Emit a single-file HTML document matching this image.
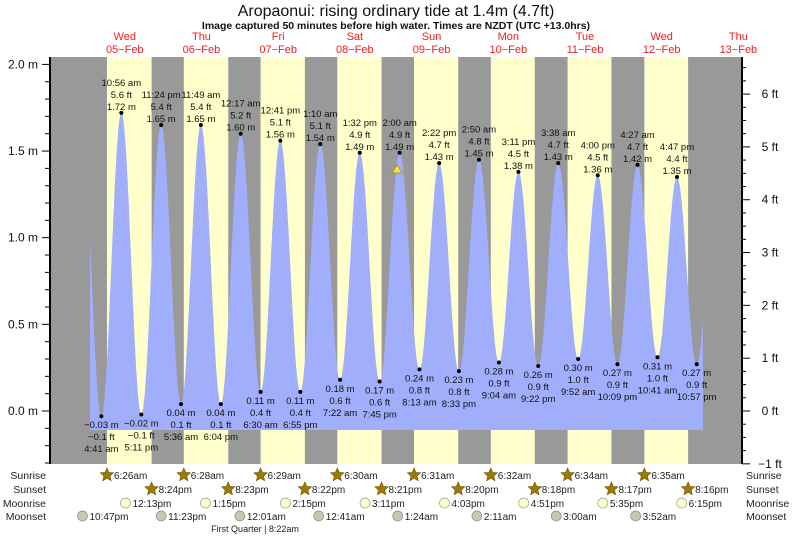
<!DOCTYPE html>
<html><head><meta charset="utf-8"><style>
body{margin:0;background:#fff;}
svg{display:block;font-family:"Liberation Sans",sans-serif;}
</style></head><body>
<svg id="s" width="793" height="537" xmlns="http://www.w3.org/2000/svg">
<rect x="50" y="57" width="692" height="407" fill="#999"/>
<g id="bands"></g>
<path id="tide" fill="#a0aefc"/>
<g id="lbl" font-size="9.5" fill="#111" text-anchor="middle"></g>
<polygon points="397,165 392,173 402,173" fill="#f5e342" stroke="#a08a00" stroke-width="0.7"/>
<line x1="50" y1="57" x2="50" y2="464" stroke="#000" stroke-width="2"/>
<line x1="742" y1="57" x2="742" y2="464" stroke="#000" stroke-width="2"/>
<g id="ax" font-size="12" fill="#111"></g>
<text x="396" y="16" font-size="16" text-anchor="middle" fill="#111">Aropaonui: rising  ordinary tide at 1.4m (4.7ft)</text>
<text x="396" y="29" font-size="10.5" font-weight="bold" text-anchor="middle" fill="#111">Image captured 50 minutes before high water. Times are NZDT (UTC +13.0hrs)</text>
<g id="days" font-size="11" fill="#f02020" text-anchor="middle"></g>
<g id="bot" font-size="11" fill="#222"></g>
<text x="255" y="532" font-size="9" text-anchor="middle" fill="#222">First Quarter | 8:22am</text>
</svg>
<script>
const NS="http://www.w3.org/2000/svg";
const X=t=>86.4+t*3.196, Y=h=>411-173.3*h;
function el(p,n,a,txt){const e=document.createElementNS(NS,n);for(const k in a)e.setAttribute(k,a[k]);if(txt!=null)e.textContent=txt;document.getElementById(p).appendChild(e);return e;}
const hm=s=>{let[h,m]=s.split(':').map(Number);return h+m/60;};
const sr=["6:26","6:28","6:29","6:30","6:31","6:32","6:34","6:35"],ss=["20:24","20:23","20:22","20:21","20:20","20:18","20:17","20:16"];
const ssl=["8:24pm","8:23pm","8:22pm","8:21pm","8:20pm","8:18pm","8:17pm","8:16pm"];
for(let d=0;d<8;d++){const a=X(d*24+hm(sr[d])),b=X(d*24+hm(ss[d]));el("bands","rect",{x:a,y:57,width:b-a,height:407,fill:"#ffffcc"});}
const E=[[-1,"22:30",1.62],[0,"4:41",-0.03,"4:41 am"],[0,"10:56",1.72,"10:56 am"],[0,"17:11",-0.02,"5:11 pm"],[0,"23:24",1.65,"11:24 pm"],
[1,"5:36",0.04,"5:36 am"],[1,"11:49",1.65,"11:49 am"],[1,"18:04",0.04,"6:04 pm"],[2,"0:17",1.60,"12:17 am"],[2,"6:30",0.11,"6:30 am"],[2,"12:41",1.56,"12:41 pm"],[2,"18:55",0.11,"6:55 pm"],
[3,"1:10",1.54,"1:10 am"],[3,"7:22",0.18,"7:22 am"],[3,"13:32",1.49,"1:32 pm"],[3,"19:45",0.17,"7:45 pm"],[4,"2:00",1.49,"2:00 am"],[4,"8:13",0.24,"8:13 am"],[4,"14:22",1.43,"2:22 pm"],[4,"20:33",0.23,"8:33 pm"],
[5,"2:50",1.45,"2:50 am"],[5,"9:04",0.28,"9:04 am"],[5,"15:11",1.38,"3:11 pm"],[5,"21:22",0.26,"9:22 pm"],[6,"3:38",1.43,"3:38 am"],[6,"9:52",0.30,"9:52 am"],[6,"16:00",1.36,"4:00 pm"],[6,"22:09",0.27,"10:09 pm"],
[7,"4:27",1.42,"4:27 am"],[7,"10:41",0.31,"10:41 am"],[7,"16:47",1.35,"4:47 pm"],[7,"22:57",0.27,"10:57 pm"],[8,"5:15",1.40]];
const P=E.map(e=>[e[0]*24+hm(e[1]),e[2]]);
function H(t){for(let i=0;i<P.length-1;i++){if(t>=P[i][0]&&t<=P[i+1][0]){const[a,ha]=P[i],[b,hb]=P[i+1];const f=(1-Math.cos(Math.PI*(t-a)/(b-a)))/2;return ha+(hb-ha)*f;}}return 0;}
let t0=(90-86.4)/3.196,t1=(703-86.4)/3.196,base=430,d="M90,"+base;
for(let t=t0;t<=t1;t+=0.1)d+=" L"+X(t).toFixed(1)+","+Math.min(Y(H(t)),base).toFixed(1);
d+=" L703,"+base+" Z";document.getElementById("tide").setAttribute("d",d);
E.forEach(e=>{if(!e[3])return;const x=X(e[0]*24+hm(e[1])),y=Y(e[2]),hi=e[2]>1,m=e[2].toFixed(2)+" m",ft=(e[2]/0.3048).toFixed(1)+" ft";
el("lbl","circle",{cx:x,cy:y,r:2,fill:"#000"});
const mm=m.replace("-","\u2212"),ff=ft.replace("-","\u2212");
if(hi){el("lbl","text",{x:x,y:y-27},e[3]);el("lbl","text",{x:x,y:y-15},ff);el("lbl","text",{x:x,y:y-3},mm);}
else{el("lbl","text",{x:x,y:y+12},mm);el("lbl","text",{x:x,y:y+24},ff);el("lbl","text",{x:x,y:y+36},e[3]);}});
for(let i=-5;i<=21;i++){const y=Y(i/10);if(y<57||y>464)continue;const maj=i%5==0;el("ax","line",{x1:maj?42:45,x2:50,y1:y,y2:y,stroke:"#000"});if(maj)el("ax","text",{x:38,y:y+4,"text-anchor":"end"},(i/10).toFixed(1)+" m");}
for(let f=-1;f<=6.5;f+=0.25){const y=411-52.82*f;if(y<57||y>465)continue;const maj=Math.abs(f-Math.round(f))<1e-6;el("ax","line",{x1:742,x2:maj?750:746,y1:y,y2:y,stroke:"#000"});if(maj)el("ax","text",{x:770,y:y+4,"text-anchor":"middle"},(Math.round(f)<0?"\u22121":Math.round(f))+" ft");}
const dn=["Wed","Thu","Fri","Sat","Sun","Mon","Tue","Wed","Thu"],dd=["05","06","07","08","09","10","11","12","13"];
dn.forEach((n,i)=>{const x=X(i*24+12);el("days","text",{x:x,y:40},n);el("days","text",{x:x,y:53},dd[i]+"\u2212Feb");});
const rows=[["Sunrise",475],["Sunset",489],["Moonrise",503],["Moonset",516]];
rows.forEach(r=>{el("bot","text",{x:46,y:r[1]+4,"text-anchor":"end","font-size":10.5},r[0]);el("bot","text",{x:746,y:r[1]+4,"font-size":10.5},r[0]);});
function star(x,y){let p="";for(let k=0;k<10;k++){const rr=k%2?3.2:7,a=-Math.PI/2+k*Math.PI/5;p+=(x+rr*Math.cos(a)).toFixed(1)+","+(y+rr*Math.sin(a)).toFixed(1)+" ";}el("bot","polygon",{points:p,fill:"#a07a00",stroke:"#6a5000","stroke-width":0.6});}
const srl=["6:26am","6:28am","6:29am","6:30am","6:31am","6:32am","6:34am","6:35am"];
for(let d=0;d<8;d++){let x=X(d*24+hm(sr[d]));star(x,475);el("bot","text",{x:x+7,y:479,"font-size":10},srl[d]);
x=X(d*24+hm(ss[d]));star(x,489);el("bot","text",{x:x+7,y:493,"font-size":10},ssl[d]);}
const mr=[["12:13","12:13pm"],["13:15","1:15pm"],["14:15","2:15pm"],["15:11","3:11pm"],["16:03","4:03pm"],["16:51","4:51pm"],["17:35","5:35pm"],["18:15","6:15pm"]];
mr.forEach((m,d)=>{const x=X(d*24+hm(m[0]));el("bot","circle",{cx:x,cy:503,r:5,fill:"#ffffc8",stroke:"#999","stroke-width":0.7});el("bot","text",{x:x+7,y:507,"font-size":10},m[1]);});
const ms=[[-1,"22:47","10:47pm"],[0,"23:23","11:23pm"],[2,"0:01","12:01am"],[3,"0:41","12:41am"],[4,"1:24","1:24am"],[5,"2:11","2:11am"],[6,"3:00","3:00am"],[7,"3:52","3:52am"]];
ms.forEach(m=>{const x=X(m[0]*24+hm(m[1]));el("bot","circle",{cx:x,cy:516,r:5,fill:"#c8c8b0",stroke:"#888","stroke-width":0.7});el("bot","text",{x:x+7,y:520,"font-size":10},m[2]);});
</script>
</body></html>
